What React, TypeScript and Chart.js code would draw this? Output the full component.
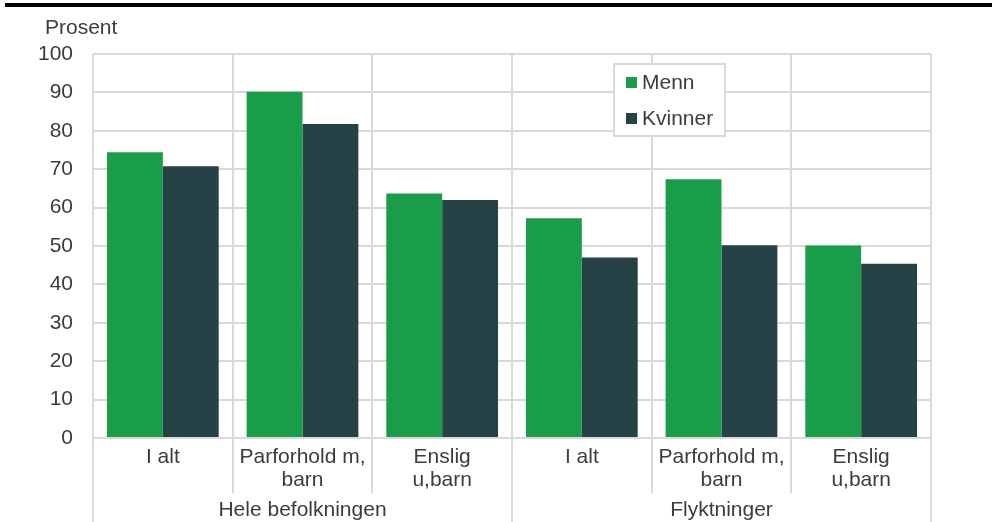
import React, { useEffect, useRef } from 'react';
import { Chart, registerables } from 'chart.js';

Chart.register(...registerables);

// ---- data ----
const categories: string[][] = [
  ['I alt'],
  ['Parforhold m,', 'barn'],
  ['Enslig', 'u,barn'],
  ['I alt'],
  ['Parforhold m,', 'barn'],
  ['Enslig', 'u,barn'],
];
const groups = ['Hele befolkningen', 'Flyktninger'];
const groupSizes = [3, 3];
const seriesNames = ['Menn', 'Kvinner'];
const menn = [74.4, 90.2, 63.7, 57.2, 67.4, 50.1];
const kvinner = [70.8, 81.8, 62.0, 47.0, 50.2, 45.4];
const yMin = 0;
const yMax = 100;
const yStep = 10;
const yTitle = 'Prosent';

// ---- style ----
const FONT = '"Liberation Sans", Arial, sans-serif';
const TEXT = '#3c3c3c';
const GRID = '#d9d9d9';
const COLORS = ['#1a9d49', '#274247'];

const decorPlugin = {
  id: 'decor',
  afterDraw(chart: any) {
    const ctx = chart.ctx as CanvasRenderingContext2D;
    const ca = chart.chartArea;
    const xs = chart.scales.x;
    ctx.save();

    // top rule
    ctx.fillStyle = '#000';
    ctx.fillRect(5, 3, chart.width - 5, 4);

    // y title
    ctx.font = `21px ${FONT}`;
    ctx.fillStyle = TEXT;
    ctx.textAlign = 'left';
    ctx.textBaseline = 'middle';
    ctx.fillText(yTitle, 45, 28);

    // separators below axis
    const n = categories.length;
    const half = (xs.getPixelForValue(1) - xs.getPixelForValue(0)) / 2;
    const boundaryX = (i: number) =>
      i < n ? xs.getPixelForValue(i) - half : xs.getPixelForValue(n - 1) + half;
    const groupEdges = new Set<number>([0]);
    let acc = 0;
    groupSizes.forEach((s) => {
      acc += s;
      groupEdges.add(acc);
    });
    ctx.strokeStyle = GRID;
    ctx.lineWidth = 2;
    for (let i = 0; i <= n; i++) {
      const x = Math.round(boundaryX(i));
      const yEnd = groupEdges.has(i) ? chart.height : ca.bottom + 55;
      ctx.beginPath();
      ctx.moveTo(x, ca.bottom);
      ctx.lineTo(x, yEnd);
      ctx.stroke();
    }

    // group labels
    ctx.fillStyle = TEXT;
    ctx.textAlign = 'center';
    ctx.textBaseline = 'middle';
    let start = 0;
    groups.forEach((g, gi) => {
      const end = start + groupSizes[gi];
      const cx = (boundaryX(start) + boundaryX(end)) / 2;
      ctx.fillText(g, cx, ca.bottom + 72);
      start = end;
    });

    // legend
    const lx = ca.left + 521;
    const ly = ca.top + 10;
    const lw = 111;
    const lh = 72;
    ctx.fillStyle = '#fff';
    ctx.fillRect(lx, ly, lw, lh);
    ctx.strokeStyle = GRID;
    ctx.lineWidth = 2;
    ctx.strokeRect(lx, ly, lw, lh);
    chart.data.datasets.forEach((ds: any, i: number) => {
      const cy = ly + 18 + i * 36;
      ctx.fillStyle = ds.backgroundColor;
      ctx.fillRect(lx + 12, cy - 5, 11, 11);
      ctx.fillStyle = TEXT;
      ctx.textAlign = 'left';
      ctx.textBaseline = 'middle';
      ctx.fillText(ds.label, lx + 28, cy + 1);
    });

    ctx.restore();
  },
};

export default function App() {
  const ref = useRef<HTMLCanvasElement>(null);

  useEffect(() => {
    const chart = new Chart(ref.current as HTMLCanvasElement, {
      type: 'bar',
      data: {
        labels: categories as any,
        datasets: [
          { label: seriesNames[0], data: menn, backgroundColor: COLORS[0], borderWidth: 0 },
          { label: seriesNames[1], data: kvinner, backgroundColor: COLORS[1], borderWidth: 0 },
        ],
      },
      options: {
        animation: false,
        responsive: false,
        devicePixelRatio: 1,
        layout: { padding: { left: 0, right: 61, top: 54, bottom: 0 } },
        datasets: { bar: { categoryPercentage: 0.8, barPercentage: 1.0 } },
        plugins: {
          legend: { display: false },
          tooltip: { enabled: false },
          title: { display: false },
        },
        scales: {
          x: {
            type: 'category',
            offset: true,
            grid: { offset: true, color: GRID, lineWidth: 2, drawTicks: false },
            border: { display: false },
            ticks: {
              color: TEXT,
              font: { family: FONT, size: 21, lineHeight: 1.12 },
              padding: 7,
              maxRotation: 0,
              autoSkip: false,
            },
            afterFit(scale: any) {
              scale.height = 84;
            },
          },
          y: {
            min: yMin,
            max: yMax,
            ticks: {
              stepSize: yStep,
              color: TEXT,
              font: { family: FONT, size: 21 },
              padding: 20,
            },
            grid: { color: GRID, lineWidth: 2, drawTicks: false },
            border: { display: false },
            afterFit(scale: any) {
              scale.width = 93;
            },
          },
        },
      },
      plugins: [decorPlugin],
    });
    return () => chart.destroy();
  }, []);

  return (
    <div style={{ position: 'absolute', left: 0, top: 0, width: 992, height: 522, background: '#fff' }}>
      <canvas ref={ref} width={992} height={522} style={{ display: 'block', width: 992, height: 522 }} />
    </div>
  );
}
